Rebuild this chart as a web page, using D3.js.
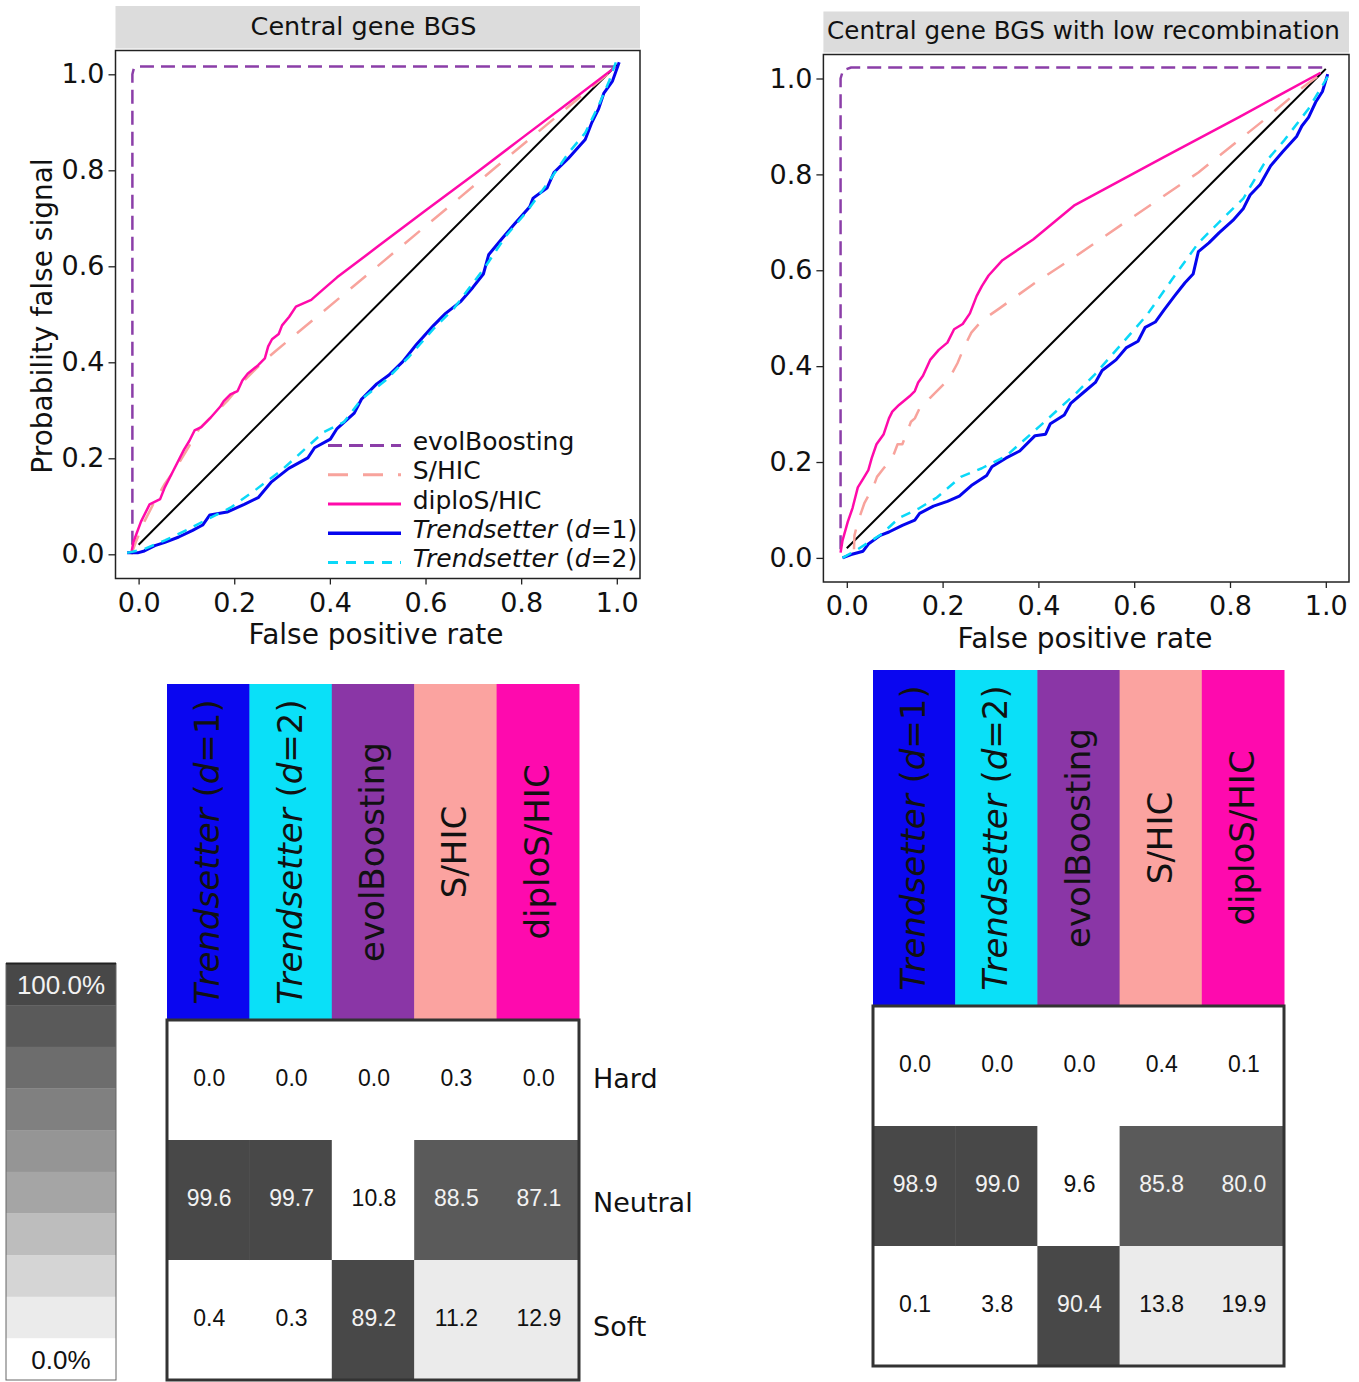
<!DOCTYPE html>
<html><head><meta charset="utf-8">
<script src="https://cdn.jsdelivr.net/npm/d3@7"></script>
<style>body{margin:0;background:#fff} svg{display:block}</style>
</head><body><svg id="chart" width="1359" height="1382"></svg>
<script>
// ---------------- DATA ----------------
const xTicks = [0, 0.2, 0.4, 0.6, 0.8, 1.0];
const yTicks = [0, 0.2, 0.4, 0.6, 0.8, 1.0];
const panelTitles = ["Central gene BGS", "Central gene BGS with low recombination"];
const xAxisTitle = "False positive rate";
const yAxisTitle = "Probability false signal";
const legendOrder = ["evolBoosting", "S/HIC", "diploS/HIC", "Trendsetter (d=1)", "Trendsetter (d=2)"];
const heatMethods = ["Trendsetter (d=1)", "Trendsetter (d=2)", "evolBoosting", "S/HIC", "diploS/HIC"];
const heatClasses = ["Hard", "Neutral", "Soft"];
const bgsHeat = [[0.0, 0.0, 0.0, 0.3, 0.0], [99.6, 99.7, 10.8, 88.5, 87.1], [0.4, 0.3, 89.2, 11.2, 12.9]];
const lowRecHeat = [[0.0, 0.0, 0.0, 0.4, 0.1], [98.9, 99.0, 9.6, 85.8, 80.0], [0.1, 3.8, 90.4, 13.8, 19.9]];
const colorbarLabels = ["100.0%", "0.0%"];
const diagonal = [[0.0, 0.02], [1.0, 1.02]];

// Central gene BGS
const bgsEvol = [[-0.013,0.02],[-0.013,1.0],[-0.01,1.012],[-0.003,1.016],[0.998,1.016]];
const bgsShic = [[-0.015,0.0],[-0.006,0.025],[0.012,0.068],[0.034,0.111],[0.055,0.147],[0.08,0.183],[0.106,0.226],[0.127,0.262],[0.156,0.29],[0.185,0.319],[0.221,0.362],[0.257,0.398],[0.286,0.423],[0.35,0.476],[0.45,0.559],[0.55,0.642],[0.65,0.725],[0.75,0.809],[0.85,0.892],[0.95,0.975],[0.995,1.012]];
const bgsDiplo = [[-0.015,0.003],[-0.011,0.025],[0.005,0.068],[0.023,0.104],[0.045,0.115],[0.055,0.14],[0.073,0.175],[0.095,0.218],[0.106,0.236],[0.117,0.258],[0.131,0.265],[0.149,0.283],[0.171,0.308],[0.178,0.319],[0.192,0.333],[0.207,0.34],[0.217,0.362],[0.228,0.376],[0.25,0.394],[0.264,0.408],[0.271,0.433],[0.279,0.448],[0.293,0.459],[0.3,0.477],[0.315,0.495],[0.329,0.516],[0.361,0.53],[0.386,0.552],[0.415,0.577],[0.5,0.641],[0.6,0.716],[0.7,0.79],[0.8,0.866],[0.9,0.941],[0.998,1.016]];
const bgsTrend1 = [[-0.024,0.003],[-0.002,0.003],[0.012,0.007],[0.034,0.018],[0.055,0.025],[0.084,0.036],[0.113,0.05],[0.134,0.061],[0.149,0.082],[0.185,0.088],[0.221,0.104],[0.25,0.118],[0.278,0.151],[0.314,0.179],[0.354,0.201],[0.368,0.222],[0.401,0.24],[0.415,0.262],[0.451,0.294],[0.466,0.323],[0.498,0.355],[0.523,0.373],[0.552,0.401],[0.581,0.437],[0.617,0.477],[0.642,0.502],[0.674,0.527],[0.699,0.556],[0.721,0.584],[0.732,0.624],[0.761,0.659],[0.786,0.688],[0.818,0.724],[0.825,0.742],[0.854,0.763],[0.869,0.796],[0.898,0.824],[0.934,0.864],[0.948,0.9],[0.962,0.928],[0.973,0.961],[0.991,0.986],[1.005,1.025]];
const bgsTrend2 = [[-0.024,0.003],[0.012,0.011],[0.055,0.029],[0.099,0.05],[0.142,0.072],[0.192,0.097],[0.243,0.133],[0.3,0.176],[0.343,0.215],[0.386,0.254],[0.43,0.276],[0.466,0.323],[0.516,0.362],[0.566,0.412],[0.617,0.47],[0.66,0.513],[0.725,0.599],[0.768,0.663],[0.811,0.713],[0.854,0.771],[0.898,0.835],[0.934,0.878],[0.962,0.935],[0.984,0.986],[0.998,1.025]];

// Central gene BGS with low recombination
const lowEvol = [[-0.013,0.018],[-0.013,1.0],[-0.008,1.017],[0.009,1.023],[0.997,1.023]];
const lowShic = [[0.015,0.018],[0.016,0.047],[0.023,0.075],[0.037,0.115],[0.055,0.147],[0.063,0.169],[0.077,0.187],[0.095,0.208],[0.106,0.237],[0.116,0.237],[0.134,0.284],[0.142,0.291],[0.152,0.312],[0.174,0.334],[0.203,0.363],[0.217,0.38],[0.231,0.406],[0.246,0.442],[0.26,0.47],[0.282,0.495],[0.318,0.52],[0.389,0.571],[0.476,0.628],[0.591,0.707],[0.734,0.804],[0.878,0.919],[0.95,0.98],[0.989,1.009]];
const lowDiplo = [[-0.013,0.011],[-0.009,0.036],[0.002,0.075],[0.012,0.104],[0.023,0.147],[0.034,0.165],[0.045,0.183],[0.052,0.208],[0.062,0.237],[0.077,0.258],[0.088,0.291],[0.095,0.305],[0.109,0.319],[0.131,0.337],[0.142,0.348],[0.149,0.366],[0.159,0.38],[0.174,0.413],[0.192,0.434],[0.21,0.449],[0.224,0.477],[0.242,0.488],[0.257,0.51],[0.271,0.546],[0.282,0.567],[0.296,0.589],[0.325,0.621],[0.389,0.664],[0.476,0.736],[0.66,0.835],[0.82,0.92],[0.989,1.012]];
const lowTrend1 = [[-0.009,0.0],[0.009,0.007],[0.034,0.014],[0.045,0.029],[0.07,0.047],[0.088,0.054],[0.116,0.068],[0.142,0.079],[0.152,0.093],[0.181,0.108],[0.21,0.118],[0.235,0.129],[0.26,0.151],[0.292,0.172],[0.303,0.19],[0.332,0.208],[0.361,0.223],[0.393,0.255],[0.415,0.258],[0.425,0.28],[0.454,0.298],[0.468,0.323],[0.494,0.345],[0.519,0.366],[0.533,0.391],[0.562,0.413],[0.583,0.438],[0.608,0.452],[0.623,0.481],[0.644,0.492],[0.662,0.517],[0.684,0.546],[0.706,0.574],[0.723,0.592],[0.734,0.639],[0.756,0.657],[0.777,0.678],[0.806,0.704],[0.828,0.729],[0.842,0.757],[0.863,0.779],[0.885,0.818],[0.91,0.847],[0.939,0.879],[0.95,0.901],[0.964,0.919],[0.979,0.951],[0.993,0.973],[1.004,1.009]];
const lowTrend2 = [[-0.009,0.0],[0.023,0.018],[0.073,0.05],[0.109,0.083],[0.152,0.104],[0.188,0.126],[0.238,0.169],[0.282,0.187],[0.332,0.212],[0.404,0.276],[0.476,0.341],[0.519,0.384],[0.576,0.449],[0.626,0.506],[0.677,0.578],[0.734,0.657],[0.777,0.7],[0.828,0.75],[0.871,0.822],[0.914,0.872],[0.964,0.937],[1.007,1.009]];

// ---------------- STYLES ----------------
const lineStyle = {
  "evolBoosting": {color: "#8b3ea8", dash: "14,7", width: 2.5},
  "S/HIC": {color: "#f8a39c", dash: "20,15", width: 2.5},
  "diploS/HIC": {color: "#ff0aaa", dash: null, width: 2.5},
  "Trendsetter (d=1)": {color: "#0505ee", dash: null, width: 3},
  "Trendsetter (d=2)": {color: "#0ad8f8", dash: "10,8", width: 2.5}
};
const headerColor = {
  "Trendsetter (d=1)": "#0a06f0",
  "Trendsetter (d=2)": "#0ae0f8",
  "evolBoosting": "#8a36a6",
  "S/HIC": "#fba3a0",
  "diploS/HIC": "#fe0aae"
};
const colorbarColors = ["#484848","#5a5a5a","#6d6d6d","#808080","#959595","#a5a5a5","#bdbdbd","#d5d5d5","#ebebeb","#ffffff"];
const cellColor = d3.scaleQuantize().domain([0, 100])
  .range(["#ffffff","#ebebeb","#d5d5d5","#bdbdbd","#a5a5a5","#959595","#808080","#5a5a5a","#484848"]);
const FONT = "DejaVu Sans, Verdana, sans-serif";
const HFONT = "Liberation Sans, Arial, Helvetica, sans-serif";

const svg = d3.select("#chart");

function writeName(sel, name) {
  const m = name.match(/^Trendsetter \(d=(\d)\)$/);
  if (m) {
    sel.append("tspan").attr("font-style", "italic").text("Trendsetter");
    sel.append("tspan").text(" (");
    sel.append("tspan").attr("font-style", "italic").text("d");
    sel.append("tspan").text("=" + m[1] + ")");
  } else {
    sel.text(name);
  }
}

function drawPanel(cfg) {
  const g = svg.append("g");
  const x = d3.scaleLinear().domain([0, 1]).range(cfg.xr);
  const y = d3.scaleLinear().domain([0, 1]).range(cfg.yr);
  const f = cfg.frame;
  // strip
  g.append("rect").attr("x", f.x0).attr("y", cfg.strip[0]).attr("width", f.x1 - f.x0)
    .attr("height", cfg.strip[1] - cfg.strip[0]).attr("fill", "#dcdcdc");
  g.append("text").attr("x", cfg.titleX).attr("y", cfg.titleY).attr("text-anchor", "middle")
    .attr("font-family", FONT).attr("font-size", cfg.titleSize).attr("fill", "#111").text(cfg.title);
  // clip
  const cid = "clip" + cfg.id;
  g.append("clipPath").attr("id", cid).append("rect")
    .attr("x", f.x0).attr("y", f.y0).attr("width", f.x1 - f.x0).attr("height", f.y1 - f.y0);
  const plot = g.append("g").attr("clip-path", `url(#${cid})`);
  const line = d3.line().x(d => x(d[0])).y(d => y(d[1]));
  plot.append("path").datum(diagonal).attr("d", line).attr("fill", "none")
    .attr("stroke", "#000").attr("stroke-width", 2);
  cfg.series.forEach(s => {
    const st = lineStyle[s.name];
    plot.append("path").datum(s.data).attr("d", line).attr("fill", "none")
      .attr("stroke", st.color).attr("stroke-width", st.width)
      .attr("stroke-dasharray", st.dash).attr("stroke-linejoin", "round");
  });
  // frame
  g.append("rect").attr("x", f.x0).attr("y", f.y0).attr("width", f.x1 - f.x0).attr("height", f.y1 - f.y0)
    .attr("fill", "none").attr("stroke", "#222").attr("stroke-width", 1.5);
  // axes
  const gx = g.append("g").attr("transform", `translate(0,${f.y1})`)
    .call(d3.axisBottom(x).tickValues(xTicks).tickFormat(d3.format(".1f")).tickSize(6).tickPadding(8));
  const gy = g.append("g").attr("transform", `translate(${f.x0},0)`)
    .call(d3.axisLeft(y).tickValues(yTicks).tickFormat(d3.format(".1f")).tickSize(7).tickPadding(4));
  [gx, gy].forEach(a => {
    a.select(".domain").remove();
    a.selectAll("line").attr("stroke", "#222").attr("stroke-width", 1.3);
    a.selectAll("text").attr("font-family", FONT).attr("font-size", 27).attr("fill", "#111");
  });
  g.append("text").attr("x", cfg.xTitleX).attr("y", f.y1 + 65.5).attr("text-anchor", "middle")
    .attr("font-family", FONT).attr("font-size", 28).attr("fill", "#111").text(xAxisTitle);
  if (cfg.yTitle) {
    g.append("text").attr("transform", `translate(52,316) rotate(-90)`).attr("text-anchor", "middle")
      .attr("font-family", FONT).attr("font-size", 28).attr("fill", "#111").text(yAxisTitle);
  }
  if (cfg.legend) {
    const lg = g.append("g");
    const ly = d3.scalePoint().domain(legendOrder).range([450, 567]);
    legendOrder.forEach(n => {
      const st = lineStyle[n];
      lg.append("line").attr("x1", 328).attr("x2", 401).attr("y1", ly(n) - 4.5).attr("y2", ly(n) - 4.5)
        .attr("stroke", st.color).attr("stroke-width", st.width + 0.5).attr("stroke-dasharray", st.dash);
      const t = lg.append("text").attr("x", 412.7).attr("y", ly(n)).attr("font-family", FONT)
        .attr("font-size", 25).attr("fill", "#111");
      writeName(t, n);
    });
  }
}

drawPanel({
  id: "L", title: panelTitles[0], titleX: 363.5, titleY: 34.5, titleSize: 25.5, strip: [6, 48.5],
  frame: {x0: 115.5, x1: 640, y0: 50.5, y1: 578.5},
  xr: [138.6, 616.8], yr: [554.3, 74.3], xTitleX: 376, yTitle: true, legend: true,
  series: [
    {name: "evolBoosting", data: bgsEvol}, {name: "S/HIC", data: bgsShic},
    {name: "diploS/HIC", data: bgsDiplo}, {name: "Trendsetter (d=1)", data: bgsTrend1},
    {name: "Trendsetter (d=2)", data: bgsTrend2}
  ]
});
drawPanel({
  id: "R", title: panelTitles[1], titleX: 1083.5, titleY: 39, titleSize: 24.6, strip: [11.5, 52.5],
  frame: {x0: 823.4, x1: 1349, y0: 54.5, y1: 582},
  xr: [846.8, 1325.8], yr: [557.9, 78.5], xTitleX: 1085, yTitle: false, legend: false,
  series: [
    {name: "evolBoosting", data: lowEvol}, {name: "S/HIC", data: lowShic},
    {name: "diploS/HIC", data: lowDiplo}, {name: "Trendsetter (d=1)", data: lowTrend1},
    {name: "Trendsetter (d=2)", data: lowTrend2}
  ]
});

function drawHeat(cfg, values) {
  const g = svg.append("g");
  const x = d3.scaleBand().domain(heatMethods).range([cfg.x0, cfg.x1]);
  const y = d3.scaleBand().domain(heatClasses).range([cfg.gridTop, cfg.gridBottom]);
  const bw = x.bandwidth(), bh = y.bandwidth();
  const hc = (cfg.headTop + cfg.gridTop) / 2;
  heatMethods.forEach(m => {
    g.append("rect").attr("x", x(m)).attr("y", cfg.headTop).attr("width", bw + 0.5)
      .attr("height", cfg.gridTop - cfg.headTop).attr("fill", headerColor[m]);
    const t = g.append("text").attr("transform", `translate(${x(m) + bw / 2 + 11},${hc}) rotate(-90)`)
      .attr("text-anchor", "middle").attr("font-family", FONT).attr("font-size", 34).attr("fill", "#111");
    writeName(t, m);
  });
  heatClasses.forEach((c, i) => {
    heatMethods.forEach((m, j) => {
      const v = values[i][j];
      g.append("rect").attr("x", x(m)).attr("y", y(c)).attr("width", bw + 0.5).attr("height", bh + 0.5)
        .attr("fill", cellColor(v));
      const dark = cellColor.range().indexOf(cellColor(v)) >= 5;
      g.append("text").attr("x", x(m) + bw / 2 + 1).attr("y", y(c) + bh / 2 - 2).attr("dy", "0.35em")
        .attr("text-anchor", "middle").attr("font-family", HFONT).attr("font-size", 23)
        .attr("fill", dark ? "#f2f2f2" : "#111").text(d3.format(".1f")(v));
    });
    if (cfg.rowLabels) {
      g.append("text").attr("x", cfg.x1 + 14).attr("y", y(c) + bh / 2 - 2 + i * 4).attr("dy", "0.36em")
        .attr("font-family", FONT).attr("font-size", 27).attr("fill", "#111").text(c);
    }
  });
  g.append("rect").attr("x", cfg.x0).attr("y", cfg.gridTop).attr("width", cfg.x1 - cfg.x0)
    .attr("height", cfg.gridBottom - cfg.gridTop).attr("fill", "none").attr("stroke", "#333").attr("stroke-width", 3);
}

drawHeat({x0: 167, x1: 579, headTop: 684, gridTop: 1020, gridBottom: 1380, rowLabels: true}, bgsHeat);
drawHeat({x0: 873, x1: 1284, headTop: 670, gridTop: 1006, gridBottom: 1366, rowLabels: false}, lowRecHeat);

// colorbar
(function () {
  const g = svg.append("g");
  const yb = d3.scaleBand().domain(d3.range(colorbarColors.length)).range([963.5, 1380]);
  colorbarColors.forEach((c, i) => {
    g.append("rect").attr("x", 6).attr("y", yb(i)).attr("width", 110).attr("height", yb.bandwidth() + 0.3).attr("fill", c);
  });
  g.append("rect").attr("x", 6).attr("y", 963.5).attr("width", 110).attr("height", 1380 - 963.5)
    .attr("fill", "none").attr("stroke", "#666").attr("stroke-width", 1);
  g.append("line").attr("x1", 6).attr("x2", 116).attr("y1", 963.5).attr("y2", 963.5).attr("stroke", "#222").attr("stroke-width", 2);
  g.append("text").attr("x", 61).attr("y", yb(0) + yb.bandwidth() / 2).attr("dy", "0.36em").attr("text-anchor", "middle")
    .attr("font-family", HFONT).attr("font-size", 26).attr("fill", "#f2f2f2").text(colorbarLabels[0]);
  const last = colorbarColors.length - 1;
  g.append("text").attr("x", 61).attr("y", yb(last) + yb.bandwidth() / 2).attr("dy", "0.36em").attr("text-anchor", "middle")
    .attr("font-family", HFONT).attr("font-size", 26).attr("fill", "#111").text(colorbarLabels[1]);
})();
</script></body></html>
